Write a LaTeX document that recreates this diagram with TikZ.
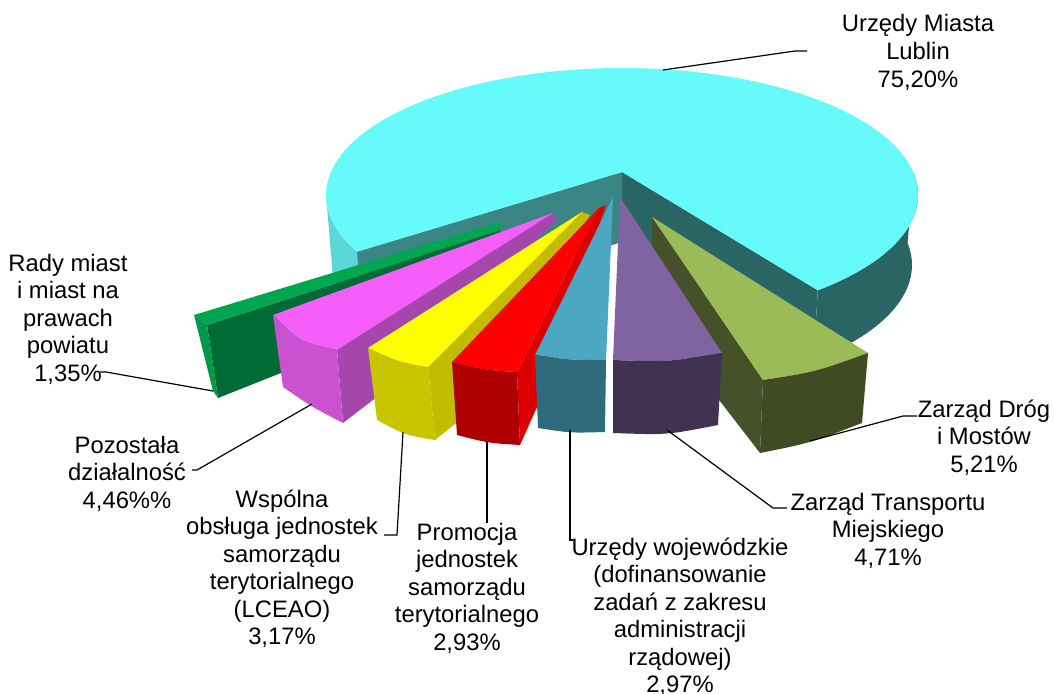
\documentclass[tikz,border=0pt]{standalone}
\usepackage{fontspec}
\setmainfont{Liberation Sans}
\definecolor{cytop}{HTML}{66FBFA}
\definecolor{cywall}{HTML}{5CD6D9}
\definecolor{cyradL}{HTML}{3A8684}
\definecolor{cyradR}{HTML}{286563}
\definecolor{grtop}{HTML}{00A650}
\definecolor{grside}{HTML}{006B35}
\definecolor{grfront}{HTML}{00994A}
\definecolor{mgtop}{HTML}{F55EF9}
\definecolor{mgside}{HTML}{A446AB}
\definecolor{mgfront}{HTML}{CB52CF}
\definecolor{yetop}{HTML}{FFFF00}
\definecolor{yeside}{HTML}{C4BC00}
\definecolor{yefront}{HTML}{C8C400}
\definecolor{retop}{HTML}{FF0000}
\definecolor{reside}{HTML}{DC0000}
\definecolor{refront}{HTML}{AE0000}
\definecolor{bltop}{HTML}{4BA7C2}
\definecolor{blfront}{HTML}{306B7D}
\definecolor{pltop}{HTML}{8064A2}
\definecolor{plfront}{HTML}{403250}
\definecolor{oltop}{HTML}{9BBB59}
\definecolor{olside}{HTML}{46512A}
\definecolor{olfront}{HTML}{414B23}
\tikzset{
  lbl/.style={font=\fontsize{23.8}{27.5}\selectfont, align=center, inner sep=0pt, anchor=base},
  leader/.style={draw=black, line width=1.2pt, line join=miter}
}
\begin{document}
\begin{tikzpicture}[x=1pt,y=-1pt]
\useasboundingbox (0,0) rectangle (1054,693);
% ---------- big cyan slice ----------
\fill[cywall] plot[domain=150:180,samples=20] ({622+296*cos(\x)},{195+127*sin(\x)})
  -- plot[domain=180:150,samples=20] ({622+290*cos(\x)},{265+127*sin(\x)}) -- cycle;
\fill[cyradR] plot[domain=350:408.6,samples=30] ({622+296*cos(\x)},{195+127*sin(\x)})
  -- plot[domain=408.6:350,samples=30] ({622+290*cos(\x)},{265+127*sin(\x)}) -- cycle;
\fill[cyradL] (622,172) -- (357.1,251.7) -- (362.5,321.7) -- (622,242) -- cycle;
\fill[cyradR] (622,172) -- (817.7,290.2) -- (813.7,360.2) -- (622,242) -- cycle;
\fill[cytop] (622,172) -- plot[domain=153.5:408.6,samples=120] ({622+296*cos(\x)},{195+127*sin(\x)}) -- cycle;
% ---------- green ----------
\fill[grside] (207,325) -- (500,230) -- (500,286) -- (218,398) -- cycle;
\fill[grtop] (194,315) -- (500,222) -- (500,230) -- (207,325) -- cycle;
\fill[grfront] (194,315) -- (207,325) -- (218,398) -- (213,391) -- cycle;
% ---------- magenta ----------
\fill[mgside] (337,350) -- (553,213) -- (557,220) -- (373,400) -- (343,423) -- cycle;
\fill[mgtop] (553,213) -- (273,315) .. controls (300,342) .. (337,350) -- cycle;
\fill[mgfront] (273,315) .. controls (300,342) .. (337,350) -- (343,423) .. controls (312,407) .. (283,387) -- cycle;
% ---------- yellow ----------
\fill[yeside] (428,367) -- (582,212) -- (590,215) -- (460,420) -- (435,440) -- cycle;
\fill[yetop] (582,212) -- (368,348) .. controls (398,362) .. (428,367) -- cycle;
\fill[yefront] (368,348) .. controls (398,362) .. (428,367) -- (435,440) .. controls (405,435) .. (377,420) -- cycle;
% ---------- red ----------
\fill[reside] (517,372) -- (599,208) -- (606,205) -- (537,407) -- (520,445) -- cycle;
\fill[retop] (599,208) -- (452,362) .. controls (485,370) .. (517,372) -- cycle;
\fill[refront] (452,362) .. controls (485,370) .. (517,372) -- (520,445) .. controls (488,443) .. (457,435) -- cycle;
% ---------- blue ----------
\fill[bltop] (613,197) -- (535,355) .. controls (570,360) .. (606,360) -- cycle;
\fill[blfront] (535,355) .. controls (570,360) .. (606,360) -- (605,432) .. controls (570,433) .. (538,428) -- cycle;
% ---------- olive ----------
\fill[olside] (652,217) -- (763,380) -- (760,453) -- (652,313) -- cycle;
\fill[oltop] (652,217) -- (868,353) .. controls (815,372) .. (763,380) -- cycle;
\fill[olfront] (763,380) .. controls (815,372) .. (868,353) -- (862,423) .. controls (810,443) .. (760,453) -- cycle;
% ---------- purple ----------
\fill[pltop] (620,197) -- (722,353) .. controls (667,362) .. (613,360) -- cycle;
\fill[plfront] (613,360) .. controls (667,362) .. (722,353) -- (718,425) .. controls (667,435) .. (613,433) -- cycle;
% ---------- labels (anchor = baseline of last line) ----------
\node[lbl] (lub) at (918,87) {Urzędy Miasta\\Lublin\\75,20\%};
\node[lbl] (rad) at (68,381) {Rady miast\\i miast na\\prawach\\powiatu\\1,35\%};
\node[lbl] (poz) at (127,508) {Pozostała\\działalność\\4,46\%\%};
\node[lbl] (wsp) at (282,644.5) {Wspólna\\obsługa jednostek\\samorządu\\terytorialnego\\(LCEAO)\\3,17\%};
\node[lbl] (pro) at (467,650) {Promocja\\jednostek\\samorządu\\terytorialnego\\2,93\%};
\node[lbl] (woj) at (680,692.5) {Urzędy wojewódzkie\\(dofinansowanie\\zadań z zakresu\\administracji\\rządowej)\\2,97\%};
\node[lbl] (ztm) at (888,565) {Zarząd Transportu\\Miejskiego\\4,71\%};
\node[lbl] (zdm) at (984,472) {Zarząd Dróg\\i Mostów\\5,21\%};
% ---------- leader lines ----------
\coordinate (pLub) at (663,70);   \coordinate (eLub) at (807,51);
\coordinate (pRad) at (213,391);  \coordinate (eRad) at (100,372);
\coordinate (pPoz) at (312,404);  \coordinate (ePoz) at (192,470);
\coordinate (pWsp) at (403,432);  \coordinate (eWsp) at (384,535);
\coordinate (pPro) at (487,441);  \coordinate (ePro) at (487,523);
\coordinate (pWoj) at (570,430);  \coordinate (eWoj) at (573,540);
\coordinate (pZtm) at (667,430);  \coordinate (eZtm) at (787,508);
\coordinate (pZdm) at (810,441);  \coordinate (eZdm) at (917,416);
\draw[leader] (pLub) -- (795,51) -- (eLub);
\draw[leader] (pRad) -- (106,372) -- (eRad);
\draw[leader] (pPoz) -- (197,470) -- (ePoz);
\draw[leader] (pWsp) -- (397,535) -- (eWsp);
\draw[leader] (pPro) -- (ePro);
\draw[leader] (pWoj) -- (570,540) -- (eWoj);
\draw[leader] (pZtm) -- (773,508) -- (eZtm);
\draw[leader] (pZdm) -- (903,416) -- (eZdm);
\end{tikzpicture}
\end{document}
